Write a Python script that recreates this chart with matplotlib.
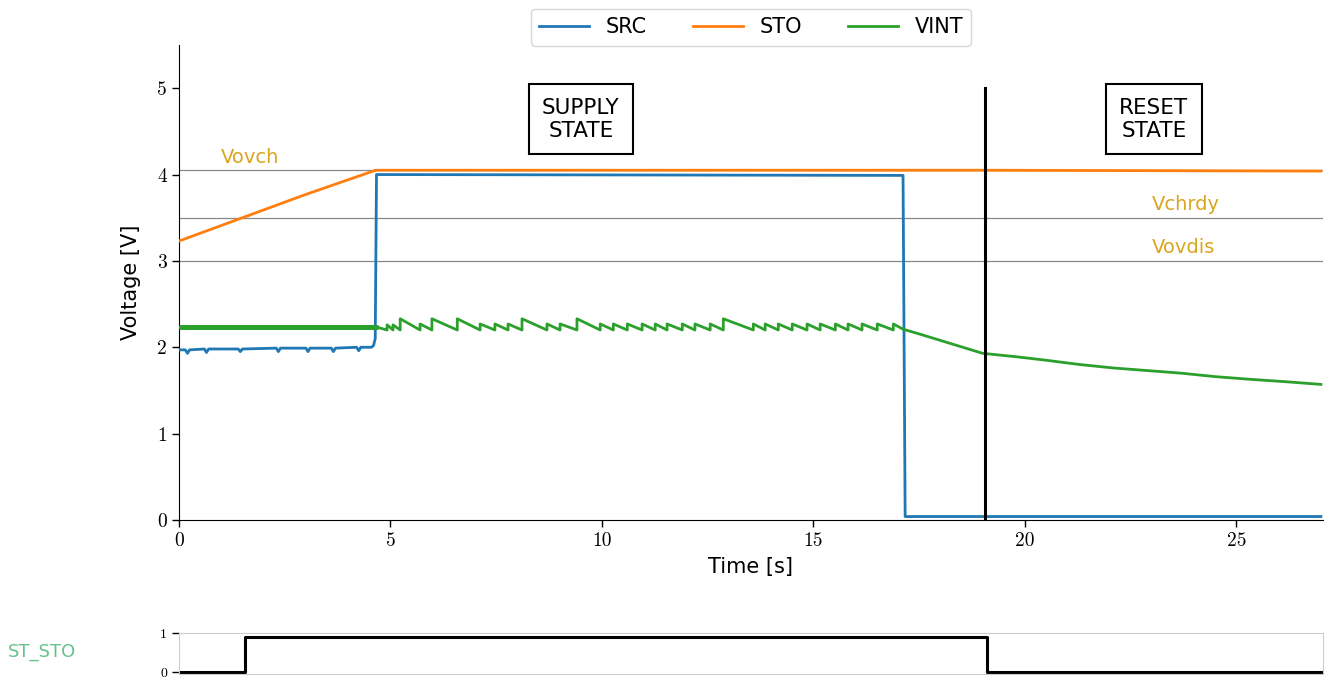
import matplotlib
matplotlib.use("Agg")
import matplotlib.pyplot as plt

# ---------------- data ----------------
src_t = [0.0, 0.15, 0.2, 0.25, 0.6, 0.65, 0.7, 1.4, 1.45, 1.5, 2.3, 2.35, 2.4, 3.0, 3.05, 3.1,
         3.6, 3.65, 3.7, 4.2, 4.25, 4.3, 4.55, 4.6, 4.64, 4.67, 17.12, 17.17, 27.0]
src_v = [1.97, 1.97, 1.93, 1.97, 1.98, 1.94, 1.98, 1.98, 1.95, 1.98, 1.99, 1.95, 1.99, 1.99, 1.95, 1.99,
         1.99, 1.95, 1.99, 2.0, 1.96, 2.0, 2.0, 2.02, 2.1, 4.0, 3.99, 0.04, 0.04]

sto_t = [0.0, 1.5, 3.0, 4.65, 19.0, 27.0]
sto_v = [3.23, 3.50, 3.77, 4.05, 4.05, 4.04]

vint_noisy_t = [0.0, 4.7]
vint_noisy_v = [2.23, 2.23]

# sawtooth: jump (trough -> peak) times and peak values
vint_jump_t = [4.92, 5.06, 5.23, 5.70, 5.98, 6.58, 7.12, 7.47, 7.78, 8.11, 8.70, 9.01, 9.41,
               9.96, 10.27, 10.60, 10.95, 11.26, 11.54, 11.90, 12.20, 12.56, 12.87, 13.58,
               13.86, 14.17, 14.50, 14.85, 15.16, 15.52, 15.82, 16.15, 16.51, 16.89]
vint_jump_v = [2.26, 2.26, 2.33, 2.27, 2.33, 2.33, 2.27, 2.27, 2.27, 2.33, 2.27, 2.27, 2.33,
               2.27, 2.27, 2.27, 2.27, 2.27, 2.27, 2.27, 2.27, 2.27, 2.33, 2.27,
               2.27, 2.27, 2.27, 2.27, 2.27, 2.27, 2.27, 2.27, 2.27, 2.27]
vint_trough = 2.20
vint_tail_t = [17.12, 17.6, 18.2, 18.6, 19.0, 19.8, 20.5, 21.3, 22.1, 22.9, 23.7, 24.5, 25.3, 26.2, 27.0]
vint_tail_v = [2.21, 2.14, 2.05, 1.99, 1.93, 1.89, 1.85, 1.80, 1.76, 1.73, 1.70, 1.66, 1.63, 1.60, 1.57]

thr_names = ["Vovch", "Vchrdy", "Vovdis"]
thr_values = [4.05, 3.5, 3.0]
thr_label_x = [1.0, 23.0, 23.0]

state_t = [0.0, 1.55, 19.1, 27.0]
state_v = [0.0, 0.9, 0.0, 0.0]

reset_time = 19.05
boxes = ["SUPPLY\nSTATE", "RESET\nSTATE"]
box_x = [9.5, 23.05]
box_y = 4.64

# ---------------- build VINT path ----------------
vint_t = list(vint_noisy_t)
vint_v = list(vint_noisy_v)
for t, v in zip(vint_jump_t, vint_jump_v):
    vint_t += [t, t]
    vint_v += [vint_trough, v]
vint_t += vint_tail_t
vint_v += vint_tail_v

# ---------------- figure ----------------
sans = "DejaVu Sans"
serif = "cmr10"
fig = plt.figure(figsize=(13.27, 6.77), dpi=100)
W, H = 1327, 677
ax = fig.add_axes([179 / W, 1 - 520 / H, (1323 - 179) / W, (520 - 45) / H])
ax2 = fig.add_axes([179 / W, 1 - 674 / H, (1323 - 179) / W, (674 - 633) / H])

c_src, c_sto, c_vint = "#1f77b4", "#ff7f0e", "#2ca02c"
gold = "#DAA520"

for v in thr_values:
    ax.axhline(v, color="#888888", lw=0.9, zorder=1)
for name, v, x in zip(thr_names, thr_values, thr_label_x):
    ax.text(x, v + 0.04, name, color=gold, fontsize=14, family=sans, va="bottom", ha="left")

l1, = ax.plot(src_t, src_v, color=c_src, lw=2.0, label="SRC", zorder=3)
l2, = ax.plot(sto_t, sto_v, color=c_sto, lw=2.0, label="STO", zorder=3)
l3, = ax.plot(vint_t, vint_v, color=c_vint, lw=2.0, label="VINT", zorder=3)
ax.plot(vint_noisy_t, vint_noisy_v, color=c_vint, lw=3.6, zorder=3, solid_capstyle="butt")

ax.plot([reset_time, reset_time], [0, 5], color="black", lw=2.2, zorder=4)

for s, x in zip(boxes, box_x):
    ax.text(x, box_y, s, ha="center", va="center", fontsize=15.5, family=sans,
            linespacing=1.2,
            bbox=dict(boxstyle="square,pad=0.62", fc="white", ec="black", lw=1.5))

ax.set_xlim(0, 27.05)
ax.set_ylim(0, 5.5)
ax.set_xticks([0, 5, 10, 15, 20, 25])
ax.set_yticks([0, 1, 2, 3, 4, 5])
ax.spines["top"].set_visible(False)
ax.spines["right"].set_visible(False)
for lab in ax.get_xticklabels() + ax.get_yticklabels():
    lab.set_family(serif)
    lab.set_fontsize(14)
ax.tick_params(length=5, width=1)
ax.set_xlabel("Time [s]", fontsize=15, family=sans, labelpad=5)
ax.set_ylabel("Voltage [V]", fontsize=15, family=sans, labelpad=12)

leg = ax.legend(handles=[l1, l2, l3], loc="lower center", bbox_to_anchor=(0.5, 0.977), ncol=3,
                frameon=True, columnspacing=2.2, handlelength=2.4,
                prop={"family": sans, "size": 15})
leg.get_frame().set_edgecolor("#cccccc")

ax2.plot(state_t, state_v, color="black", lw=2.2, drawstyle="steps-post")
ax2.set_xlim(0, 27.05)
ax2.set_ylim(-0.05, 1.0)
ax2.set_yticks([0, 1])
ax2.set_xticks([])
for sp in ax2.spines.values():
    sp.set_color("#cccccc")
for lab in ax2.get_yticklabels():
    lab.set_family(serif)
    lab.set_fontsize(10)
ax2.tick_params(axis="y", length=5, width=1, color="black")
fig.text(8 / W, 1 - 652 / H, "ST_STO", color="#66c28a", fontsize=13, family=sans, va="center", ha="left")

fig.savefig("out.png", dpi=100)
